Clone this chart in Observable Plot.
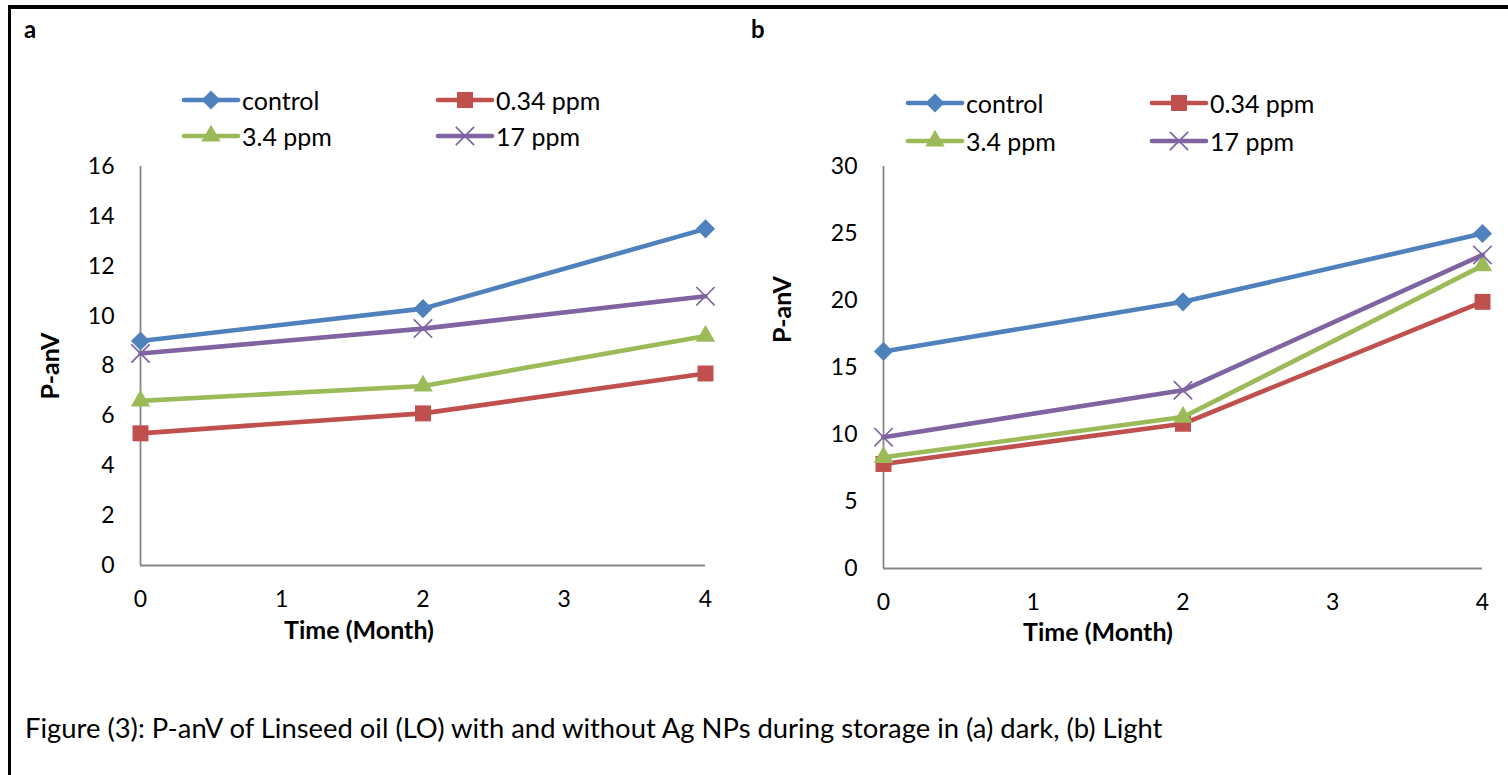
<!DOCTYPE html>
<html>
<head>
<meta charset="utf-8">
<script src="https://cdn.jsdelivr.net/npm/d3@7"></script>
<script src="https://cdn.jsdelivr.net/npm/@observablehq/plot@0.6"></script>
<style>
  html, body { margin: 0; padding: 0; background: #fff; }
  body { width: 1508px; height: 775px; position: relative; overflow: hidden; font-family: Lato, "Open Sans", sans-serif; color: #000; }
  .frame { position: absolute; left: 8px; top: 5px; width: 1700px; height: 900px; border-left: 3px solid #000; border-top: 4px solid #000; box-sizing: border-box; }
  .abs { position: absolute; }
  .panel-label { font-weight: bold; font-size: 24px; }
  .leg { position: absolute; display: flex; align-items: center; font-size: 25px; height: 24px; white-space: nowrap; }
  .leg svg { display: block; margin-right: 2px; }
  .caption { position: absolute; left: 25px; top: 711px; font-size: 27.4px; white-space: nowrap; }
</style>
</head>
<body>
<div class="frame"></div>
<script>
// ---------- data ----------
const months = [0, 2, 4];
const seriesNames = ["control", "0.34 ppm", "3.4 ppm", "17 ppm"];
const seriesColors = ["#4F81BD", "#C0504D", "#9BBB59", "#8064A2"];
const seriesSymbols = ["diamond2", "square", "triangle", "times"];

// (a) dark storage
const darkControl = [9.0, 10.3, 13.5];
const dark034 = [5.3, 6.1, 7.7];
const dark34 = [6.6, 7.2, 9.2];
const dark17 = [8.5, 9.5, 10.8];

// (b) light storage
const lightControl = [16.2, 19.9, 25.0];
const light034 = [7.8, 10.8, 19.9];
const light34 = [8.3, 11.3, 22.6];
const light17 = [9.8, 13.3, 23.4];

const xTicks = [0, 1, 2, 3, 4];
const yTicksA = [0, 2, 4, 6, 8, 10, 12, 14, 16];
const yTicksB = [0, 5, 10, 15, 20, 25, 30];

const xLabel = "Time (Month)";
const yLabel = "P-anV";
const captionText = "Figure (3): P-anV of Linseed oil (LO) with and without Ag NPs during storage in (a) dark, (b) Light";

// ---------- helpers ----------
const symbolR = {diamond2: 8.6, square: 9.0, triangle: 7.2, times: 8.4};

function toRows(seriesArrays) {
  const rows = [];
  seriesArrays.forEach((vals, i) => {
    vals.forEach((v, j) => rows.push({series: seriesNames[i], month: months[j], value: v}));
  });
  return rows;
}

function dotOpts(i) {
  const sym = seriesSymbols[i];
  const c = seriesColors[i];
  const base = {x: "month", y: "value", symbol: () => sym, r: symbolR[sym]};
  if (sym === "times") return {...base, fill: "none", stroke: c, strokeWidth: 1.7};
  return {...base, fill: c, stroke: "none"};
}

function makePanel(rows, yDomain, yTicks, cfg) {
  const marks = [
    Plot.ruleY([0], {stroke: "#878787", strokeWidth: 1.8}),
    Plot.ruleX([0], {stroke: "#878787", strokeWidth: 1.8}),
    Plot.axisX(xTicks, {tickSize: 0, tickPadding: cfg.xPad, label: null, fontSize: 23, tickFormat: d => String(d)}),
    Plot.axisY(yTicks, {tickSize: 0, tickPadding: 26, label: null, fontSize: 23, tickFormat: d => String(d)}),
    Plot.text([xLabel], {frameAnchor: "bottom", lineAnchor: "middle", textAnchor: "middle", dx: cfg.xTitleDx, dy: cfg.xTitleDy, text: d => d, fontWeight: "bold", fontSize: 25}),
    Plot.text([yLabel], {frameAnchor: "left", lineAnchor: "middle", textAnchor: "middle", dx: cfg.yTitleDx, dy: cfg.yTitleDy, rotate: -90, text: d => d, fontWeight: "bold", fontSize: 25})
  ];
  seriesNames.forEach((name, i) => {
    const data = rows.filter(d => d.series === name);
    marks.push(Plot.line(data, {x: "month", y: "value", stroke: seriesColors[i], strokeWidth: 4.6, strokeLinejoin: "round", strokeLinecap: "round"}));
    marks.push(Plot.dot(data, dotOpts(i)));
  });
  return Plot.plot({
    width: cfg.width,
    height: cfg.height,
    marginLeft: 120,
    marginRight: 20,
    marginTop: 26,
    marginBottom: cfg.height - 26 - cfg.plotH,
    style: {fontFamily: "Lato, 'Open Sans', sans-serif", fontSize: "23px", color: "#000", background: "transparent", overflow: "visible"},
    x: {domain: [0, 4]},
    y: {domain: yDomain},
    marks
  });
}

function symbolPath(i) {
  const sym = seriesSymbols[i];
  const map = {diamond2: d3.symbolDiamond2, square: d3.symbolSquare, triangle: d3.symbolTriangle, times: d3.symbolTimes};
  const r = symbolR[sym];
  return d3.symbol(map[sym], Math.PI * r * r)();
}

function addLegend(items) {
  items.forEach(({i, left, top}) => {
    const div = document.createElement("div");
    div.className = "leg";
    div.style.left = left + "px";
    div.style.top = (top - 12) + "px";
    const svg = d3.create("svg").attr("width", 58).attr("height", 24).style("overflow", "visible");
    svg.append("line").attr("x1", 2).attr("x2", 56).attr("y1", 12).attr("y2", 12)
      .attr("stroke", seriesColors[i]).attr("stroke-width", 4.6).attr("stroke-linecap", "round");
    const p = svg.append("path").attr("d", symbolPath(i)).attr("transform", "translate(29,12)");
    if (seriesSymbols[i] === "times") p.attr("fill", "none").attr("stroke", seriesColors[i]).attr("stroke-width", 1.7);
    else p.attr("fill", seriesColors[i]);
    div.appendChild(svg.node());
    const span = document.createElement("span");
    span.textContent = seriesNames[i];
    div.appendChild(span);
    document.body.appendChild(div);
  });
}

// ---------- panel a ----------
const plotA = makePanel(toRows([darkControl, dark034, dark34, dark17]), [0, 16], yTicksA,
  {width: 705, height: 515, plotH: 399, xPad: 25, xTitleDx: -64, xTitleDy: 65, yTitleDx: -90, yTitleDy: 0});
plotA.style.position = "absolute"; plotA.style.left = "20px"; plotA.style.top = "140px";
document.body.appendChild(plotA);

// ---------- panel b ----------
const plotB = makePanel(toRows([lightControl, light034, light34, light17]), [0, 30], yTicksB,
  {width: 739, height: 518, plotH: 402, xPad: 25, xTitleDx: -85, xTitleDy: 64, yTitleDx: -101, yTitleDy: -58});
plotB.style.position = "absolute"; plotB.style.left = "763px"; plotB.style.top = "140px";
document.body.appendChild(plotB);

// ---------- labels, legends, caption ----------
function addText(cls, text, left, top) {
  const d = document.createElement("div");
  d.className = "abs " + cls;
  d.textContent = text;
  d.style.left = left + "px"; d.style.top = top + "px";
  document.body.appendChild(d);
}
addText("panel-label", "a", 24, 14);
addText("panel-label", "b", 751, 14);

addLegend([
  {i: 0, left: 182, top: 100}, {i: 1, left: 436, top: 100},
  {i: 2, left: 182, top: 136}, {i: 3, left: 436, top: 136},
  {i: 0, left: 906, top: 103}, {i: 1, left: 1150, top: 103},
  {i: 2, left: 906, top: 141}, {i: 3, left: 1150, top: 141}
]);

const cap = document.createElement("div");
cap.className = "caption";
cap.textContent = captionText;
document.body.appendChild(cap);
</script>
</body>
</html>
